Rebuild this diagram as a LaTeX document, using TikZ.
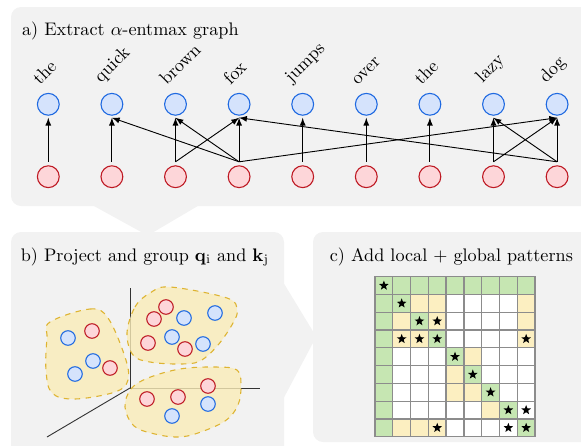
\documentclass[tikz,border=0pt]{standalone}
\usepackage{amsmath}
\usepackage{amssymb}
\usetikzlibrary{arrows,shapes}

\definecolor{panelgray}{RGB}{242,242,242}
\definecolor{qfill}{RGB}{213,227,252}
\definecolor{qdraw}{RGB}{30,105,225}
\definecolor{kfill}{RGB}{253,214,217}
\definecolor{kdraw}{RGB}{190,25,35}
\definecolor{blobfill}{RGB}{250,236,184}
\definecolor{blobdraw}{RGB}{222,180,50}
\definecolor{cellgreen}{RGB}{198,230,178}
\definecolor{cellyellow}{RGB}{252,239,193}
\definecolor{gridgray}{RGB}{140,140,140}

\tikzset{
  panel/.style = {fill = panelgray, rounded corners = 5.5pt},
  qnode/.style = {circle, draw = qdraw, fill = qfill, line width = 0.6pt, minimum size = 12pt, inner sep = 0pt},
  knode/.style = {circle, draw = kdraw, fill = kfill, line width = 0.6pt, minimum size = 12pt, inner sep = 0pt},
  smallq/.style = {qnode, minimum size = 8pt},
  smallk/.style = {knode, minimum size = 8pt},
  word/.style = {rotate = 45, anchor = south west, inner sep = 0pt},
  title/.style = {anchor = base west, inner sep = 0pt},
  link/.style = {-latex, line width = 0.5pt},
  axis/.style = {draw = black!80, line width = 0.5pt},
  blob/.style = {draw = blobdraw, fill = blobfill, fill opacity = 0.8, dashed, line width = 0.6pt},
  gridline/.style = {draw = gridgray, line width = 0.7pt, xstep = 9.78pt, ystep = 9.78pt},
  starmark/.style = {star, star points = 5, star point ratio = 2.4, fill = black, inner sep = 0pt, minimum size = 5.6pt}
}

\begin{document}
\begin{tikzpicture}[x = 0.55pt, y = -0.55pt]
\useasboundingbox (0,0) rectangle (581,445);
\clip (0,0) rectangle (581,445);

\fill[panel] (11,7) rectangle (620,206);
\fill[panel] (11,232) rectangle (284,470);
\fill[panel] (313,232) rectangle (620,442);
\fill[panelgray] (83,200) -- (208,200) -- (152,233) -- (143,233) -- cycle;
\fill[panelgray] (280,277) -- (314,333) -- (314,341) -- (280,405) -- cycle;

\node[title] (ta) at (21.7,35) {a) Extract $\alpha$-entmax graph};
\node[title] (tb) at (20.5,261) {b) Project and group $\mathbf{q}_\mathrm{i}$ and $\mathbf{k}_\mathrm{j}$};
\node[title] (tc) at (329.5,261) {c) Add local + global patterns};

\node[qnode] (t0) at (48.3,104.3) {};
\node[qnode] (t1) at (111.9,104.3) {};
\node[qnode] (t2) at (175.5,104.3) {};
\node[qnode] (t3) at (239.1,104.3) {};
\node[qnode] (t4) at (302.7,104.3) {};
\node[qnode] (t5) at (366.3,104.3) {};
\node[qnode] (t6) at (429.9,104.3) {};
\node[qnode] (t7) at (493.5,104.3) {};
\node[qnode] (t8) at (557.1,104.3) {};

\node[knode] (b0) at (48.3,176.7) {};
\node[knode] (b1) at (111.9,176.7) {};
\node[knode] (b2) at (175.5,176.7) {};
\node[knode] (b3) at (239.1,176.7) {};
\node[knode] (b4) at (302.7,176.7) {};
\node[knode] (b5) at (366.3,176.7) {};
\node[knode] (b6) at (429.9,176.7) {};
\node[knode] (b7) at (493.5,176.7) {};
\node[knode] (b8) at (557.1,176.7) {};

\node[word] (w0) at ([xshift=-4.6pt,yshift=3.5pt]t0.north) {the};
\node[word] (w1) at ([xshift=-4.6pt,yshift=3.5pt]t1.north) {quick};
\node[word] (w2) at ([xshift=-4.6pt,yshift=3.5pt]t2.north) {brown};
\node[word] (w3) at ([xshift=-4.6pt,yshift=3.5pt]t3.north) {fox};
\node[word] (w4) at ([xshift=-4.6pt,yshift=3.5pt]t4.north) {jumps};
\node[word] (w5) at ([xshift=-4.6pt,yshift=3.5pt]t5.north) {over};
\node[word] (w6) at ([xshift=-4.6pt,yshift=3.5pt]t6.north) {the};
\node[word] (w7) at ([xshift=-4.6pt,yshift=3.5pt]t7.north) {lazy};
\node[word] (w8) at ([xshift=-4.6pt,yshift=3.5pt]t8.north) {dog};

\draw[link] ([yshift=1.9pt]b0.north) -- ([yshift=-1.1pt]t0.south);
\draw[link] ([yshift=1.9pt]b1.north) -- ([yshift=-1.1pt]t1.south);
\draw[link] ([yshift=1.9pt]b2.north) -- ([yshift=-1.1pt]t2.south);
\draw[link] ([yshift=1.9pt]b2.north) -- ([yshift=-1.1pt]t3.south);
\draw[link] ([yshift=1.9pt]b3.north) -- ([yshift=-1.1pt]t1.south);
\draw[link] ([yshift=1.9pt]b3.north) -- ([yshift=-1.1pt]t2.south);
\draw[link] ([yshift=1.9pt]b3.north) -- ([yshift=-1.1pt]t3.south);
\draw[link] ([yshift=1.9pt]b3.north) -- ([yshift=-1.1pt]t8.south);
\draw[link] ([yshift=1.9pt]b4.north) -- ([yshift=-1.1pt]t4.south);
\draw[link] ([yshift=1.9pt]b5.north) -- ([yshift=-1.1pt]t5.south);
\draw[link] ([yshift=1.9pt]b6.north) -- ([yshift=-1.1pt]t6.south);
\draw[link] ([yshift=1.9pt]b7.north) -- ([yshift=-1.1pt]t7.south);
\draw[link] ([yshift=1.9pt]b7.north) -- ([yshift=-1.1pt]t8.south);
\draw[link] ([yshift=1.9pt]b8.north) -- ([yshift=-1.1pt]t3.south);
\draw[link] ([yshift=1.9pt]b8.north) -- ([yshift=-1.1pt]t7.south);
\draw[link] ([yshift=1.9pt]b8.north) -- ([yshift=-1.1pt]t8.south);

\draw[axis] (130,288) -- (130,388) -- (260,388);
\draw[axis] (130,388) -- (47,437);

\draw[blob] plot[smooth cycle, tension = 0.6] coordinates {(50,322) (90,309) (108,318) (125,357) (128,380) (115,392) (75,399) (52,393) (46,370) (47,338)};
\draw[blob] plot[smooth cycle, tension = 0.6] coordinates {(127,333) (135,307) (150,293) (170,287) (227,298) (237,310) (233,323) (218,345) (200,361) (180,364) (150,362) (133,355)};
\draw[blob] plot[smooth cycle, tension = 0.6] coordinates {(125,407) (131,389) (148,378) (180,369) (215,367) (237,370) (241,385) (238,405) (225,421) (198,433) (178,437) (155,434) (134,426)};

\node[smallq] (qa1) at (68,338) {};
\node[smallk] (ka1) at (92,331) {};
\node[smallq] (qa2) at (93,361) {};
\node[smallk] (ka2) at (110,368) {};
\node[smallq] (qa3) at (75,374) {};

\node[smallk] (kb1) at (166,307) {};
\node[smallk] (kb2) at (154,319) {};
\node[smallq] (qb1) at (184,318) {};
\node[smallq] (qb2) at (215,313) {};
\node[smallq] (qb3) at (172,337) {};
\node[smallk] (kb3) at (148,343) {};
\node[smallk] (kb4) at (185,349) {};
\node[smallq] (qb4) at (203,344) {};

\node[smallk] (kc1) at (147,399) {};
\node[smallk] (kc2) at (178,397) {};
\node[smallk] (kc3) at (208,386) {};
\node[smallq] (qc1) at (208,404) {};
\node[smallq] (qc2) at (172,416) {};

\begin{scope}[shift = {(375,276.7)}, x = 9.78pt, y = -9.78pt]
\fill[white] (0,0) rectangle (9,9);
\fill[cellgreen] (0,0) rectangle (9,1);
\fill[cellgreen] (0,0) rectangle (1,9);
\fill[cellgreen] (1,1) rectangle (2,2);
\fill[cellgreen] (2,2) rectangle (3,3);
\fill[cellgreen] (3,3) rectangle (4,4);
\fill[cellgreen] (4,4) rectangle (5,5);
\fill[cellgreen] (5,5) rectangle (6,6);
\fill[cellgreen] (6,6) rectangle (7,7);
\fill[cellgreen] (7,7) rectangle (8,8);
\fill[cellgreen] (8,8) rectangle (9,9);
\fill[cellyellow] (2,1) rectangle (4,2);
\fill[cellyellow] (8,1) rectangle (9,4);
\fill[cellyellow] (1,2) rectangle (2,4);
\fill[cellyellow] (3,2) rectangle (4,3);
\fill[cellyellow] (2,3) rectangle (3,4);
\fill[cellyellow] (5,4) rectangle (6,5);
\fill[cellyellow] (4,5) rectangle (5,7);
\fill[cellyellow] (5,6) rectangle (6,7);
\fill[cellyellow] (6,7) rectangle (7,8);
\fill[cellyellow] (1,8) rectangle (4,9);
\draw[gridline] (0,0) grid (9,9);
\draw[gridline] (0,0) rectangle (9,9);

\node[starmark] (s00) at (0.5,0.5) {};
\node[starmark] (s11) at (1.5,1.5) {};
\node[starmark] (s22) at (2.5,2.5) {};
\node[starmark] (s23) at (3.5,2.5) {};
\node[starmark] (s31) at (1.5,3.5) {};
\node[starmark] (s32) at (2.5,3.5) {};
\node[starmark] (s33) at (3.5,3.5) {};
\node[starmark] (s38) at (8.5,3.5) {};
\node[starmark] (s44) at (4.5,4.5) {};
\node[starmark] (s55) at (5.5,5.5) {};
\node[starmark] (s66) at (6.5,6.5) {};
\node[starmark] (s77) at (7.5,7.5) {};
\node[starmark] (s78) at (8.5,7.5) {};
\node[starmark] (s83) at (3.5,8.5) {};
\node[starmark] (s87) at (7.5,8.5) {};
\node[starmark] (s88) at (8.5,8.5) {};
\end{scope}

\end{tikzpicture}
\end{document}
